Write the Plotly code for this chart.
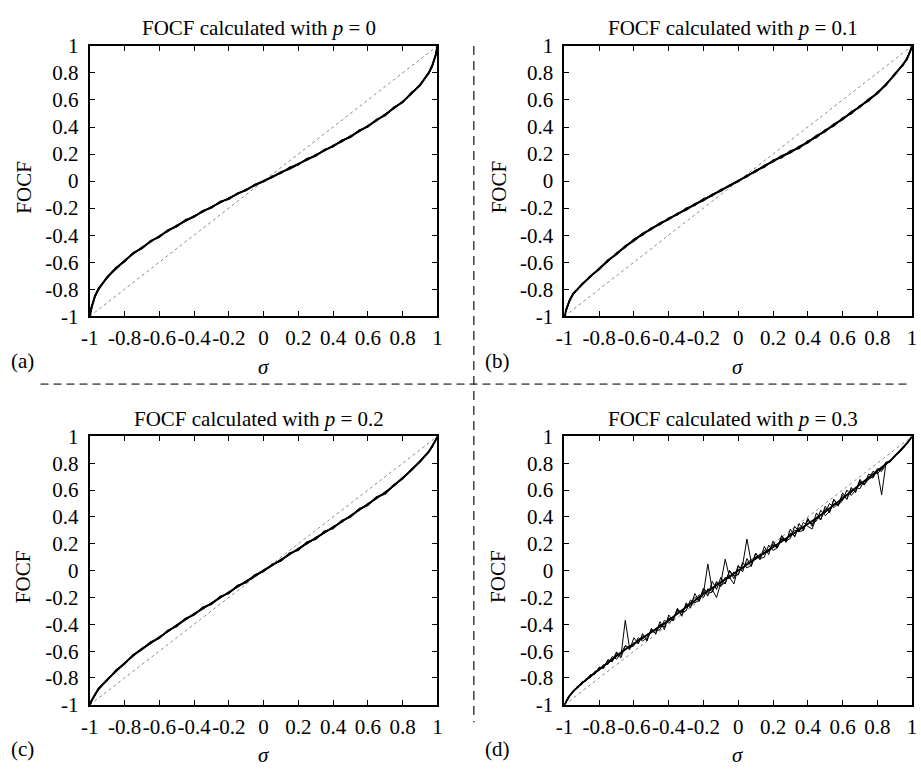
import plotly.graph_objects as go

# ---------------------------------------------------------------------------
# Data: FOCF against sigma for several independent runs, per value of p
# ---------------------------------------------------------------------------
sigma_fine = [-1, -0.99, -0.97, -0.95, -0.9, -0.85, -0.8, -0.75, -0.7, -0.65,
              -0.6, -0.55, -0.5, -0.45, -0.4, -0.35, -0.3, -0.25, -0.2, -0.15,
              -0.1, -0.05, 0, 0.05, 0.1, 0.15, 0.2, 0.25, 0.3, 0.35, 0.4, 0.45,
              0.5, 0.55, 0.6, 0.65, 0.7, 0.75, 0.8, 0.85, 0.9, 0.95, 0.97,
              0.99, 1]

# p = 0
focf_p0_run1 = [-1, -0.94, -0.85, -0.80, -0.71, -0.645, -0.592, -0.535, -0.495, -0.445,
                -0.41, -0.365, -0.333, -0.292, -0.262, -0.222, -0.195, -0.155, -0.13, -0.092,
                -0.066, -0.028, 0.002, 0.03, 0.066, 0.09, 0.125, 0.16, 0.188, 0.228,
                0.258, 0.298, 0.328, 0.372, 0.405, 0.452, 0.49, 0.542, 0.585, 0.65,
                0.71, 0.80, 0.855, 0.93, 1]
focf_p0_run2 = [-1, -0.93, -0.86, -0.795, -0.715, -0.65, -0.585, -0.54, -0.488, -0.452,
                -0.404, -0.372, -0.328, -0.298, -0.256, -0.23, -0.188, -0.162, -0.124, -0.098,
                -0.06, -0.034, -0.003, 0.034, 0.06, 0.098, 0.13, 0.155, 0.196, 0.222,
                0.264, 0.29, 0.336, 0.365, 0.412, 0.445, 0.496, 0.535, 0.592, 0.643,
                0.715, 0.795, 0.85, 0.935, 1]
focf_p0_run3 = [-1, -0.935, -0.845, -0.805, -0.708, -0.652, -0.59, -0.532, -0.498, -0.447,
                -0.412, -0.368, -0.326, -0.296, -0.26, -0.225, -0.192, -0.158, -0.128, -0.094,
                -0.064, -0.03, 0.001, 0.029, 0.064, 0.094, 0.128, 0.158, 0.194, 0.224,
                0.26, 0.296, 0.33, 0.368, 0.41, 0.448, 0.494, 0.538, 0.588, 0.648,
                0.712, 0.798, 0.848, 0.928, 1]
focf_p0_run4 = [-1, -0.925, -0.855, -0.79, -0.72, -0.638, -0.598, -0.528, -0.5, -0.44,
                -0.418, -0.36, -0.34, -0.285, -0.268, -0.218, -0.2, -0.15, -0.135, -0.088,
                -0.07, -0.024, -0.006, 0.038, 0.056, 0.104, 0.12, 0.168, 0.184, 0.236,
                0.252, 0.304, 0.322, 0.378, 0.4, 0.458, 0.484, 0.548, 0.58, 0.656,
                0.704, 0.808, 0.842, 0.938, 1]

# p = 0.1
focf_p01_run1 = [-1, -0.95, -0.885, -0.832, -0.768, -0.702, -0.652, -0.586, -0.541, -0.48,
                 -0.44, -0.388, -0.356, -0.311, -0.283, -0.24, -0.213, -0.17, -0.142, -0.1,
                 -0.072, -0.031, -0.003, 0.041, 0.07, 0.114, 0.144, 0.186, 0.21, 0.255,
                 0.285, 0.335, 0.368, 0.42, 0.456, 0.51, 0.548, 0.605, 0.648, 0.718,
                 0.786, 0.868, 0.9, 0.963, 1]
focf_p01_run2 = [-1, -0.958, -0.876, -0.838, -0.762, -0.708, -0.645, -0.594, -0.534, -0.49,
                 -0.43, -0.396, -0.348, -0.319, -0.275, -0.248, -0.205, -0.178, -0.136, -0.108,
                 -0.066, -0.038, 0.002, 0.034, 0.078, 0.106, 0.152, 0.178, 0.22, 0.245,
                 0.295, 0.325, 0.376, 0.41, 0.464, 0.5, 0.556, 0.595, 0.656, 0.71,
                 0.794, 0.862, 0.908, 0.958, 1]
focf_p01_run3 = [-1, -0.955, -0.88, -0.835, -0.765, -0.705, -0.648, -0.59, -0.537, -0.485,
                 -0.435, -0.392, -0.352, -0.315, -0.279, -0.243, -0.207, -0.172, -0.137, -0.102,
                 -0.068, -0.034, 0, 0.037, 0.074, 0.11, 0.148, 0.182, 0.215, 0.25,
                 0.29, 0.33, 0.372, 0.415, 0.46, 0.505, 0.552, 0.6, 0.652, 0.714,
                 0.79, 0.865, 0.905, 0.96, 1]
focf_p01_run4 = [-1, -0.952, -0.878, -0.84, -0.76, -0.71, -0.642, -0.596, -0.53, -0.492,
                 -0.428, -0.4, -0.345, -0.322, -0.272, -0.25, -0.2, -0.18, -0.13, -0.11,
                 -0.06, -0.04, 0.006, 0.03, 0.082, 0.1, 0.156, 0.172, 0.225, 0.24,
                 0.298, 0.32, 0.38, 0.405, 0.468, 0.496, 0.56, 0.59, 0.66, 0.706,
                 0.796, 0.858, 0.91, 0.955, 1]

# p = 0.2
focf_p02_run1 = [-1, -0.97, -0.925, -0.88, -0.812, -0.75, -0.692, -0.63, -0.585, -0.538,
                 -0.5, -0.45, -0.41, -0.362, -0.326, -0.28, -0.246, -0.2, -0.165, -0.118,
                 -0.082, -0.038, 0.002, 0.042, 0.078, 0.124, 0.16, 0.206, 0.24, 0.285,
                 0.32, 0.368, 0.404, 0.455, 0.492, 0.545, 0.578, 0.636, 0.688, 0.75,
                 0.813, 0.886, 0.925, 0.972, 1]
focf_p02_run2 = [-1, -0.975, -0.92, -0.888, -0.818, -0.744, -0.688, -0.636, -0.578, -0.544,
                 -0.492, -0.456, -0.404, -0.368, -0.32, -0.288, -0.24, -0.206, -0.158, -0.124,
                 -0.076, -0.042, -0.003, 0.036, 0.084, 0.118, 0.166, 0.198, 0.248, 0.28,
                 0.328, 0.36, 0.412, 0.448, 0.5, 0.535, 0.588, 0.63, 0.694, 0.745,
                 0.818, 0.882, 0.922, 0.97, 1]
focf_p02_run3 = [-1, -0.972, -0.924, -0.884, -0.815, -0.748, -0.69, -0.633, -0.582, -0.54,
                 -0.496, -0.452, -0.408, -0.365, -0.323, -0.283, -0.243, -0.203, -0.162, -0.121,
                 -0.08, -0.04, 0.0, 0.04, 0.08, 0.121, 0.162, 0.203, 0.243, 0.283,
                 0.323, 0.365, 0.408, 0.452, 0.496, 0.54, 0.582, 0.633, 0.69, 0.748,
                 0.815, 0.885, 0.925, 0.972, 1]
focf_p02_run4 = [-1, -0.968, -0.93, -0.876, -0.822, -0.74, -0.698, -0.624, -0.59, -0.53,
                 -0.505, -0.442, -0.418, -0.355, -0.333, -0.272, -0.253, -0.192, -0.172, -0.11,
                 -0.09, -0.03, -0.008, 0.05, 0.07, 0.132, 0.15, 0.214, 0.232, 0.295,
                 0.312, 0.376, 0.398, 0.462, 0.486, 0.55, 0.572, 0.642, 0.682, 0.756,
                 0.808, 0.89, 0.92, 0.975, 1]

# p = 0.3 (sampled on a finer, uniform sigma grid)
sigma_p03 = [-1, -0.975, -0.95, -0.925, -0.9, -0.875, -0.85, -0.825, -0.8, -0.775,
             -0.75, -0.725, -0.7, -0.675, -0.65, -0.625, -0.6, -0.575, -0.55, -0.525,
             -0.5, -0.475, -0.45, -0.425, -0.4, -0.375, -0.35, -0.325, -0.3, -0.275,
             -0.25, -0.225, -0.2, -0.175, -0.15, -0.125, -0.1, -0.075, -0.05, -0.025,
             0, 0.025, 0.05, 0.075, 0.1, 0.125, 0.15, 0.175, 0.2, 0.225,
             0.25, 0.275, 0.3, 0.325, 0.35, 0.375, 0.4, 0.425, 0.45, 0.475,
             0.5, 0.525, 0.55, 0.575, 0.6, 0.625, 0.65, 0.675, 0.7, 0.725,
             0.75, 0.775, 0.8, 0.825, 0.85, 0.875, 0.9, 0.925, 0.95, 0.975, 1]
focf_p03_run1 = [-1, -0.94, -0.9, -0.868, -0.84, -0.813, -0.787, -0.76, -0.735, -0.71,
                 -0.685, -0.66, -0.635, -0.61, -0.587, -0.566, -0.545, -0.524, -0.503, -0.482,
                 -0.461, -0.44, -0.419, -0.397, -0.372, -0.345, -0.32, -0.295, -0.27, -0.245,
                 -0.22, -0.196, -0.174, -0.152, -0.13, -0.109, -0.087, -0.066, -0.044, -0.022,
                 0, 0.022, 0.045, 0.067, 0.089, 0.112, 0.134, 0.156, 0.178, 0.2,
                 0.222, 0.244, 0.265, 0.287, 0.308, 0.329, 0.35, 0.37, 0.391, 0.413,
                 0.438, 0.463, 0.488, 0.513, 0.538, 0.563, 0.589, 0.615, 0.64, 0.665,
                 0.69, 0.715, 0.74, 0.765, 0.792, 0.82, 0.852, 0.885, 0.918, 0.955, 1]
focf_p03_run2 = [-1, -0.945, -0.895, -0.875, -0.83, -0.82, -0.775, -0.772, -0.72, -0.73,
                 -0.665, -0.672, -0.605, -0.65, -0.56, -0.59, -0.5, -0.545, -0.47, -0.525,
                 -0.43, -0.47, -0.38, -0.44, -0.33, -0.37, -0.28, -0.34, -0.24, -0.28,
                 -0.17, -0.23, -0.14, -0.19, -0.08, -0.14, -0.05, -0.1, 0.0, -0.06,
                 0.04, -0.01, 0.09, 0.03, 0.13, 0.08, 0.18, 0.12, 0.22, 0.17,
                 0.26, 0.21, 0.31, 0.25, 0.35, 0.3, 0.39, 0.33, 0.43, 0.38,
                 0.48, 0.43, 0.53, 0.48, 0.58, 0.53, 0.62, 0.58, 0.68, 0.64,
                 0.72, 0.7, 0.76, 0.75, 0.81, 0.81, 0.86, 0.878, 0.925, 0.952, 1]
focf_p03_run3 = [-1, -0.935, -0.905, -0.862, -0.848, -0.805, -0.797, -0.75, -0.745, -0.7,
                 -0.7, -0.64, -0.66, -0.615, -0.56, -0.575, -0.56, -0.5, -0.525, -0.5,
                 -0.44, -0.45, -0.44, -0.37, -0.39, -0.36, -0.29, -0.31, -0.3, -0.22,
                 -0.24, -0.22, -0.13, -0.17, -0.16, -0.08, -0.11, -0.09, 0.0, -0.04,
                 -0.03, 0.06, 0.02, 0.04, 0.13, 0.09, 0.1, 0.19, 0.15, 0.17,
                 0.26, 0.22, 0.24, 0.33, 0.29, 0.3, 0.38, 0.35, 0.37, 0.45,
                 0.41, 0.44, 0.53, 0.49, 0.52, 0.6, 0.56, 0.6, 0.67, 0.64,
                 0.68, 0.74, 0.72, 0.76, 0.8, 0.81, 0.86, 0.88, 0.91, 0.958, 1]
focf_p03_run4 = [-1, -0.945, -0.895, -0.875, -0.83, -0.82, -0.775, -0.77, -0.72, -0.725,
                 -0.665, -0.68, -0.615, -0.64, -0.37, -0.58, -0.535, -0.54, -0.485, -0.515,
                 -0.445, -0.47, -0.4, -0.42, -0.35, -0.375, -0.29, -0.33, -0.25, -0.265,
                 -0.23, -0.18, -0.2, -0.135, -0.155, -0.09, -0.12, -0.05, -0.06, -0.01,
                 -0.03, 0.04, 0.235, 0.06, 0.1, 0.095, 0.15, 0.14, 0.2, 0.18,
                 0.24, 0.23, 0.27, 0.3, 0.29, 0.36, 0.33, 0.31, 0.4, 0.38,
                 0.46, 0.44, 0.5, 0.49, 0.56, 0.535, 0.61, 0.59, 0.66, 0.64,
                 0.7, 0.69, 0.75, 0.74, 0.79, 0.82, 0.85, 0.888, 0.915, 0.958, 1]
focf_p03_run5 = [-1, -0.94, -0.905, -0.862, -0.848, -0.805, -0.792, -0.758, -0.738, -0.705,
                 -0.692, -0.655, -0.628, -0.618, -0.59, -0.56, -0.55, -0.515, -0.51, -0.475,
                 -0.465, -0.43, -0.42, -0.4, -0.36, -0.35, -0.3, -0.31, -0.26, -0.24,
                 -0.2, -0.22, -0.17, 0.05, -0.14, -0.2, -0.09, 0.085, -0.05, -0.1,
                 0.03, 0.01, 0.06, 0.08, 0.1, 0.12, 0.125, 0.16, 0.19, 0.17,
                 0.235, 0.22, 0.28, 0.26, 0.32, 0.31, 0.375, 0.345, 0.39, 0.42,
                 0.43, 0.5, 0.47, 0.5, 0.53, 0.56, 0.58, 0.62, 0.61, 0.67,
                 0.68, 0.7, 0.745, 0.566, 0.8, 0.815, 0.855, 0.88, 0.92, 0.955, 1]

# reference line FOCF = sigma
diag_sigma = [-1, 1]
diag_focf = [-1, 1]

tick_vals = [-1, -0.8, -0.6, -0.4, -0.2, 0, 0.2, 0.4, 0.6, 0.8, 1]
tick_text = ["-1", "-0.8", "-0.6", "-0.4", "-0.2", "0", "0.2", "0.4", "0.6", "0.8", "1"]

panels = [
    dict(tag="(a)", p="0", sigma=sigma_fine,
         runs=[focf_p0_run1, focf_p0_run2, focf_p0_run3, focf_p0_run4]),
    dict(tag="(b)", p="0.1", sigma=sigma_fine,
         runs=[focf_p01_run1, focf_p01_run2, focf_p01_run3, focf_p01_run4]),
    dict(tag="(c)", p="0.2", sigma=sigma_fine,
         runs=[focf_p02_run1, focf_p02_run2, focf_p02_run3, focf_p02_run4]),
    dict(tag="(d)", p="0.3", sigma=sigma_p03,
         runs=[focf_p03_run1, focf_p03_run2, focf_p03_run3, focf_p03_run4, focf_p03_run5]),
]

for pn in panels:
    for r in pn["runs"]:
        assert len(r) == len(pn["sigma"]), (pn["tag"], len(r))

# ---------------------------------------------------------------------------
# Layout (pixel geometry of a 921 x 774 canvas)
# ---------------------------------------------------------------------------
W, H = 921, 774
FONT = "Liberation Serif, Times New Roman, serif"
FS = 21


def fx(x):
    return x / W


def fy(y):
    return 1 - y / H


# plot boxes: left, top, right, bottom in pixels
boxes = [(82, 35, 435, 314), (564, 35, 917, 314),
         (82, 438, 435, 715), (564, 438, 917, 715)]

fig = go.Figure()
layout = dict(width=W, height=H, margin=dict(l=0, r=0, t=0, b=0),
              paper_bgcolor="white", plot_bgcolor="white",
              showlegend=False, font=dict(family=FONT, size=FS, color="black"))
annotations = []
shapes = []

for i, (pn, (l, t, r, b)) in enumerate(zip(panels, boxes)):
    n = "" if i == 0 else str(i + 1)
    xa, ya = "x" + n, "y" + n
    noisy = pn["tag"] == "(d)"

    fig.add_trace(go.Scatter(x=diag_sigma, y=diag_focf, mode="lines",
                             line=dict(color="#8a8a8a", width=1, dash="dot"),
                             xaxis=xa, yaxis=ya, hoverinfo="skip"))
    for k, run in enumerate(pn["runs"]):
        if noisy:
            w = 1.8 if k == 0 else 1.0
        else:
            w = 2.0 if k == 0 else 1.2
        fig.add_trace(go.Scatter(x=pn["sigma"], y=run, mode="lines",
                                 line=dict(color="black", width=w),
                                 xaxis=xa, yaxis=ya, hoverinfo="skip"))

    axis_common = dict(range=[-1, 1], tickvals=tick_vals, ticktext=tick_text,
                       ticks="inside", ticklen=5, tickwidth=1, tickcolor="black",
                       showline=True, linewidth=2, linecolor="black", mirror="ticks",
                       showgrid=False, zeroline=False, tickangle=0,
                       tickfont=dict(family=FONT, size=FS, color="black"))
    layout["xaxis" + n] = dict(axis_common, domain=[fx(l), fx(r)],
                               anchor=ya, ticklabelstandoff=2)
    layout["yaxis" + n] = dict(axis_common, domain=[fy(b), fy(t)],
                               anchor=xa, ticklabelstandoff=5)

    cx = (l + r) / 2
    annotations.append(dict(text="FOCF calculated with <i>p</i> = " + pn["p"],
                            x=fx(cx - 5), y=fy(t - 18), xref="paper", yref="paper",
                            xanchor="center", yanchor="middle", showarrow=False,
                            font=dict(family=FONT, size=FS, color="black")))
    annotations.append(dict(text="FOCF", textangle=-90,
                            x=fx(l - 67), y=fy((t + b) / 2 + 6), xref="paper", yref="paper",
                            xanchor="center", yanchor="middle", showarrow=False,
                            font=dict(family=FONT, size=FS, color="black")))
    annotations.append(dict(text="<i>σ</i>", x=fx(cx), y=fy(b + 52),
                            xref="paper", yref="paper", xanchor="center", yanchor="middle",
                            showarrow=False, font=dict(family=FONT, size=FS, color="black")))
    annotations.append(dict(text=pn["tag"], x=fx(l - 68), y=fy(b + 46),
                            xref="paper", yref="paper", xanchor="center", yanchor="middle",
                            showarrow=False, font=dict(family=FONT, size=FS, color="black")))

# separators between the four panels
shapes.append(dict(type="line", xref="paper", yref="paper",
                   x0=fx(32), x1=fx(914), y0=fy(384), y1=fy(384),
                   line=dict(color="#666666", width=1.6, dash="8px,5px")))
shapes.append(dict(type="line", xref="paper", yref="paper",
                   x0=fx(472), x1=fx(472), y0=fy(35), y1=fy(733),
                   line=dict(color="#222222", width=1.3, dash="9px,6px")))

layout["annotations"] = annotations
layout["shapes"] = shapes
fig.update_layout(**layout)

fig.write_html("out.html")
